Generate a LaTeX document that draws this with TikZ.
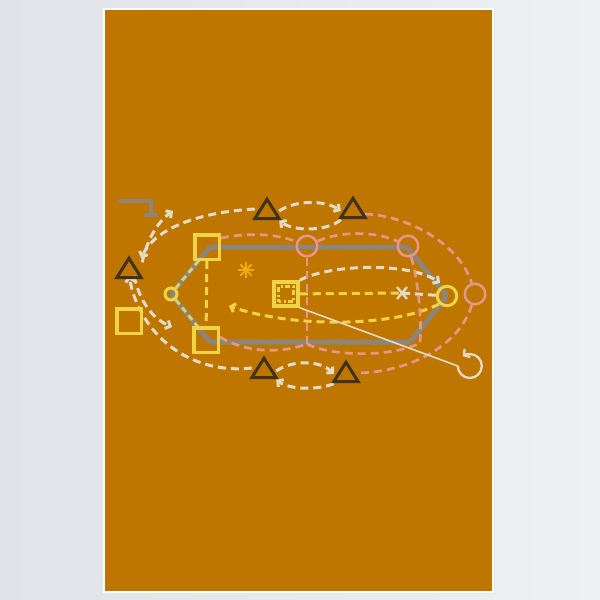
\documentclass[tikz,border=0pt]{standalone}
\usetikzlibrary{arrows.meta}
\definecolor{wallL}{HTML}{E0E4E8}
\definecolor{wallR}{HTML}{EEF1F3}
\definecolor{orng}{HTML}{BE7600}
\definecolor{greyln}{HTML}{8C867A}
\definecolor{yel}{HTML}{F0D448}
\definecolor{yelg}{HTML}{D8D46A}
\definecolor{pnk}{HTML}{E8968A}
\definecolor{crm}{HTML}{E4DCCB}
\definecolor{drk}{HTML}{40321E}
\definecolor{astc}{HTML}{F2AA10}
\pgfdeclarelayer{back}
\pgfdeclarelayer{mid}
\pgfsetlayers{back,mid,main}
\begin{document}
\begin{tikzpicture}[x=1pt,y=-1pt,
  barb/.style={-{Straight Barb[length=4pt,width=9pt]}},
  sq/.style={draw=yel, line width=3.5pt, minimum size=24.5pt, inner sep=0pt},
  ycirc/.style={circle, draw=yel, line width=3pt, inner sep=0pt},
  pcirc/.style={circle, draw=pnk, line width=2.5pt, minimum size=20.5pt, inner sep=0pt},
  tribox/.style={draw=none, minimum width=24pt, minimum height=19pt, inner sep=0pt},
  triline/.style={draw=drk, line width=3pt, line join=miter},
  dsh/.style={dash pattern=on 8pt off 5pt},
  crdash/.style={draw=crm, line width=3pt, dsh},
  ydash/.style={draw=yel, line width=3pt, dsh},
  pdash/.style={draw=pnk, line width=2.7pt, dsh},
  greypath/.style={draw=greyln, line width=5pt, rounded corners=2pt, line join=round}
]
\useasboundingbox (0,0) rectangle (600,600);
\begin{pgfonlayer}{back}
  \shade[left color=wallL, right color=wallR] (0,0) rectangle (600,600);
  \fill[black!10] (103,8) rectangle (495,594);
  \fill[white] (103,8) rectangle (494,593);
  \fill[orng] (105,10) rectangle (492,591);
\end{pgfonlayer}

% ---- shapes (nodes)
\node[ycirc, minimum size=12pt] (cY1) at (171,294) {};
\node[ycirc, minimum size=19.5pt] (cY2) at (447,296) {};
\node[pcirc] (pC1) at (307,246) {};
\node[pcirc] (pC2) at (408,246) {};
\node[pcirc] (pC3) at (475,294) {};
\node[sq] (sqTL) at (207,247) {};
\node[sq] (sqBL) at (206,340) {};
\node[sq] (sqL) at (129,321) {};
\node[sq, minimum size=24pt] (sqC) at (286,294) {};
\node[draw=yel, line width=2.2pt, minimum size=15pt, inner sep=0pt,
      dash pattern=on 5pt off 2.5pt on 2pt off 2.5pt, dash phase=2.5pt] (sqCi) at (286,294) {};
\node[tribox] (tL) at (129,268) {};
\node[tribox] (tT1) at (267,209) {};
\node[tribox] (tT2) at (353,208) {};
\node[tribox] (tB1) at (264,368) {};
\node[tribox] (tB2) at (346,372) {};
\node[circle, minimum size=24pt, inner sep=0pt] (sp) at (470,366) {};
\foreach \t in {tL,tT1,tT2,tB1,tB2}
  \draw[triline] (\t.north) -- (\t.south east) -- (\t.south west) -- cycle;

% ---- waypoints
\coordinate (g1) at (210,247);
\coordinate (g2) at (407,247);
\coordinate (g3) at (410,342);
\coordinate (g4) at (210,342);
\coordinate (gy1) at (200,259);
\coordinate (gy2) at (198,327);
\coordinate (xm) at (402,293);
\coordinate (ast) at (246,270);
\coordinate (h1) at (118,201);
\coordinate (h2) at (151,201);
\coordinate (h3) at (151,215);
\coordinate (hb1) at (144,215);
\coordinate (hb2) at (158,215);
\coordinate (pb1) at (307,344);
\coordinate (pb2) at (420,343);

\begin{pgfonlayer}{mid}
  % grey route
  \draw[greypath] (cY1.center) -- (g1) -- (g2) -- (cY2.center) -- (g3) -- (g4) -- cycle;
  \draw[draw=yelg, line width=2.8pt, dash pattern=on 6pt off 4pt] (cY1) -- (gy1);
  \draw[draw=yelg, line width=2.8pt, dash pattern=on 6pt off 4pt] (cY1) -- (gy2);
  % grey hook
  \draw[draw=greyln, line width=4pt] (h1) -- (h2) -- (h3);
  \draw[draw=greyln, line width=4pt] (hb1) -- (hb2);

  % yellow dashed
  \draw[ydash] (sqTL) -- (sqBL);
  \draw[ydash] (sqC) -- (xm);
  \draw[crdash] (xm) -- (cY2);
  \draw[ydash, barb] (cY2.south west) .. controls (400,325) and (300,330) .. (229,306);
  % cream X
  \draw[draw=crm, line width=2.3pt] (xm) ++(-5,-6) -- ++(10,12) (xm) ++(5,-6) -- ++(-10,12);
  % cream arc over
  \draw[crdash, barb] (sqC.north east) .. controls (330,264) and (410,262) .. (440,283);

  % pink inner
  \draw[pdash] ([yshift=-5pt]sqTL.north east) .. controls (245,233) and (275,233) .. (pC1);
  \draw[pdash] (pC1) .. controls (340,231) and (375,231) .. (pC2);
  \draw[pdash] (pC1) -- (pb1);
  \draw[pdash] (pC2) .. controls (418,280) and (422,320) .. (pb2);
  \draw[pdash] ([yshift=3pt]sqBL.east) .. controls (250,355) and (285,352) .. (pb1);
  \draw[pdash] (pb1) .. controls (330,356) and (390,358) .. (pb2);
  % pink outer
  \draw[pdash] ([yshift=-6pt]tT2.east) .. controls (410,216) and (460,245) .. (pC3);
  \draw[pdash] (pC3) .. controls (460,345) and (410,372) .. ([yshift=-1pt]tB2.east);

  % cream arcs with arrows
  \draw[crdash, barb] (tT1.west) .. controls (200,212) and (155,228) .. (tL.north east);
  \draw[crdash, barb] ([xshift=1pt,yshift=-4pt]tL.north east) .. controls (148,236) and (160,220) .. (173,211);
  \draw[crdash, barb] ([yshift=-2pt]tT1.east) .. controls (295,200) and (325,200) .. ([yshift=-3pt]tT2.west);
  \draw[crdash, barb] ([yshift=-2pt]tT2.south west) .. controls (328,231) and (295,232) .. ([yshift=-2pt]tT1.south east);
  \draw[crdash, barb] ([yshift=-3pt]tB1.east) .. controls (292,360) and (320,360) .. ([yshift=-2pt]tB2.west);
  \draw[crdash, barb] ([yshift=-2pt]tB2.south west) .. controls (318,390) and (290,390) .. ([yshift=-2pt]tB1.south east);
  \draw[crdash, barb] (tB1.west) .. controls (190,375) and (140,335) .. ([yshift=2pt]tL.south);
  \draw[crdash, barb] ([xshift=5pt,yshift=2pt]tL.south) .. controls (140,302) and (152,318) .. (172,327);

  % asterisk
  \foreach \a in {0,45,90,135}
    \draw[draw=astc, line width=2pt] (ast) ++(\a:8) -- ++(\a+180:16);

  % white line and spin
  \draw[draw=crm, line width=1.6pt] (sqC.south east) -- (sp.west);
  \draw[draw=crm, line width=2.3pt, -{Straight Barb[length=4pt,width=10pt]}] (sp.west) arc[start angle=180, end angle=-125, radius=12];
\end{pgfonlayer}
\end{tikzpicture}
\end{document}
